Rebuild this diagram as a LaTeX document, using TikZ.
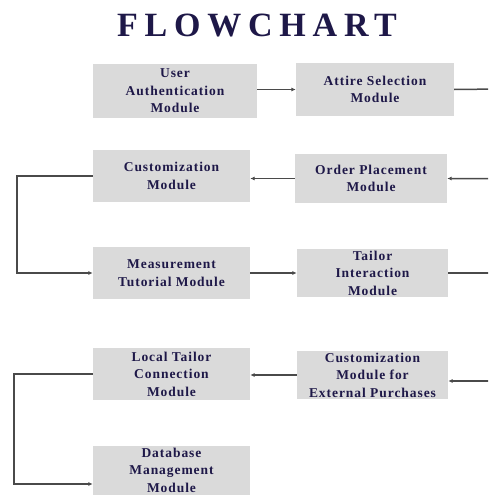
\documentclass[tikz,border=0pt]{standalone}
\usepackage{fontspec}
\usetikzlibrary{arrows.meta}
\newfontfamily\titlefont[LetterSpace=20]{Liberation Serif}
\newfontfamily\boxfont[LetterSpace=7]{Liberation Serif}
\definecolor{navy}{HTML}{1E1848}
\definecolor{boxgray}{HTML}{DADADA}
\definecolor{linegray}{HTML}{4A4A4A}
\tikzset{
  modbox/.style={fill=boxgray, draw=none, text=navy, align=center,
    font=\boxfont\bfseries\fontsize{13.5}{17.5}\selectfont, inner sep=1pt},
  conn/.style={draw=linegray, line width=1.5pt, -{Latex[length=4.5pt,width=4pt]}}
}
\begin{document}
\begin{tikzpicture}[x=1pt,y=-1pt]
\useasboundingbox (0,0) rectangle (488,495);
\clip (0,0) rectangle (488,495);
\fill[white] (0,0) rectangle (488,495);
\node[text=navy, font=\titlefont\bfseries\fontsize{34}{36}\selectfont] (title) at (257,26) {FLOWCHART};
\node[modbox, minimum width=164pt, minimum height=54pt] (ua) at (175,91) {User\\Authentication\\Module};
\node[modbox, minimum width=158pt, minimum height=53pt] (as) at (375,89.5) {Attire Selection\\Module};
\node[modbox, minimum width=157pt, minimum height=52pt] (cm) at (171.5,176) {Customization\\Module};
\node[modbox, minimum width=152pt, minimum height=49pt] (op) at (371,178.5) {Order Placement\\Module};
\node[modbox, minimum width=157pt, minimum height=52pt] (mt) at (171.5,273) {Measurement\\Tutorial Module};
\node[modbox, minimum width=151pt, minimum height=48pt] (ti) at (372.5,273) {Tailor\\Interaction\\Module};
\node[modbox, minimum width=157pt, minimum height=52pt] (lt) at (171.5,374) {Local Tailor\\Connection\\Module};
\node[modbox, minimum width=151pt, minimum height=48pt] (ce) at (372.5,375) {Customization\\Module for\\External Purchases};
\node[modbox, minimum width=157pt, minimum height=49pt] (db) at (171.5,470) {Database\\Management\\Module};
\coordinate (r1) at (500,89);
\coordinate (r2) at (500,273);
\coordinate (l1) at (17,176);
\coordinate (l2) at (14,484);
\draw[conn] (ua.east |- as.east) -- (as.west);
\draw[conn] (as.east) -- (r1) |- (op.east);
\draw[conn] (op.west) -- (op.west -| cm.east);
\draw[conn] (cm.west) -- (l1) |- (mt.west);
\draw[conn] (mt) -- (ti);
\draw[conn] (ti.east) -- (r2) |- ([yshift=-6pt]ce.east);
\draw[conn] (ce.west) -- (ce.west -| lt.east);
\draw[conn] (lt.west) -| (l2) -- (l2 -| db.west);
\end{tikzpicture}
\end{document}
